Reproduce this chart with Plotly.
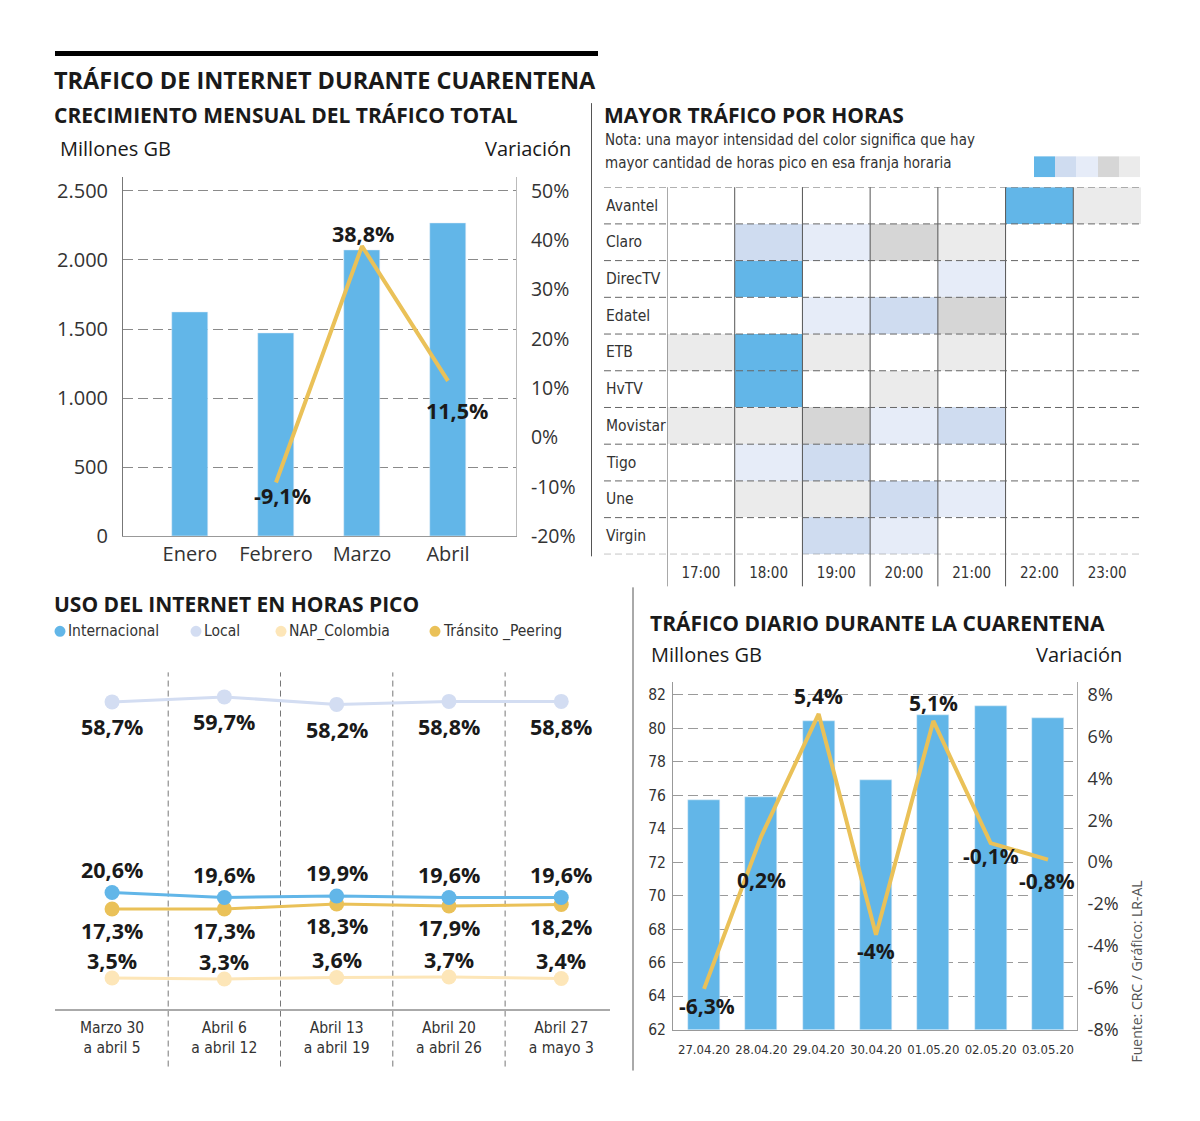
import plotly.graph_objects as go

# page has an 8px body margin; the photographed page is slightly compressed
# vertically, so vertical positions are pre-stretched by K
OFF = 8
W, H = 1200 - 2 * OFF, 1092
K = 1135 / 1121


def px(x):
    return (x - OFF) / W


def py(y):
    return 1 - (y * K - OFF) / H


# ------------------------------------------------------------------ data
MESES = ["Enero", "Febrero", "Marzo", "Abril"]
TRAFICO_MENSUAL = [1620, 1470, 2070, 2265]          # millones de GB
VAR_MENSUAL = [None, -9.1, 38.8, 11.5]              # %

OPERADORES = ["Avantel", "Claro", "DirecTV", "Edatel", "ETB", "HvTV",
              "Movistar", "Tigo", "Une", "Virgin"]
HORAS = ["17:00", "18:00", "19:00", "20:00", "21:00", "22:00", "23:00"]
# 0 = sin color ... 5 = mayor intensidad
INTENSIDAD = [
    [0, 0, 0, 0, 0, 5, 1],
    [0, 4, 3, 2, 1, 0, 0],
    [0, 5, 0, 0, 3, 0, 0],
    [0, 0, 3, 4, 2, 0, 0],
    [1, 5, 1, 0, 1, 0, 0],
    [0, 5, 0, 1, 0, 0, 0],
    [1, 1, 2, 3, 4, 0, 0],
    [0, 3, 4, 0, 0, 0, 0],
    [0, 1, 1, 4, 3, 0, 0],
    [0, 0, 4, 3, 0, 0, 0],
]
LEYENDA_INTENSIDAD = [5, 4, 3, 2, 1]

SEMANAS = ["Marzo 30<br>a abril 5", "Abril 6<br>a abril 12", "Abril 13<br>a abril 19",
           "Abril 20<br>a abril 26", "Abril 27<br>a mayo 3"]
SERIES_NOMBRES = ["Internacional", "Local", "NAP_Colombia", "Tránsito _Peering"]
INTERNACIONAL = [20.6, 19.6, 19.9, 19.6, 19.6]
LOCAL = [58.7, 59.7, 58.2, 58.8, 58.8]
NAP_COLOMBIA = [3.5, 3.3, 3.6, 3.7, 3.4]
TRANSITO_PEERING = [17.3, 17.3, 18.3, 17.9, 18.2]

DIAS = ["27.04.20", "28.04.20", "29.04.20", "30.04.20", "01.05.20", "02.05.20", "03.05.20"]
TRAFICO_DIARIO = [75.7, 75.9, 80.4, 76.9, 80.8, 81.3, 80.6]   # millones de GB
VAR_DIARIA = [-6.3, 0.2, 5.4, -4.0, 5.1, -0.1, -0.8]          # %

# ------------------------------------------------------------------ style
SANS = "Open Sans, Noto Sans, sans-serif"
COND = "DejaVu Sans Condensed, Liberation Sans Narrow, sans-serif"
INK = "#1a1a1a"
TXT = "#333333"
BLUE = "#62b6e8"
GOLD = "#eac158"
LOCAL_C = "#d3ddf2"
NAP_C = "#fde6b8"
HEAT_COLORS = ["#ffffff", "#ebebeb", "#d6d6d6", "#e6ecf8", "#cfdcf0", "#62b6e8"]
SERIES_COLORS = [BLUE, LOCAL_C, NAP_C, GOLD]

# label offsets (pixels, style only)
MES_SHIFT = [None, (7, -13), (1, 13), (9, -30)]
DIA_SHIFT = [(3, -17), (0, -44), (0, 18), (0, -16), (0, 18), (0, -13), (-1, -21)]


def pct(v):
    s = f"{v:.1f}".replace(".", ",")
    if s.endswith(",0"):
        s = s[:-2]
    return s + "%"


fig = go.Figure()

# ---------------- monthly chart
fig.add_trace(go.Bar(x=MESES, y=TRAFICO_MENSUAL, marker_color=BLUE, width=0.42,
                     xaxis="x", yaxis="y", hoverinfo="skip"))
fig.add_trace(go.Scatter(x=MESES, y=VAR_MENSUAL, mode="lines",
                         line=dict(color=GOLD, width=4), xaxis="x", yaxis="y2",
                         hoverinfo="skip"))

# ---------------- heatmap
n = len(HEAT_COLORS)
cs = []
for i, c in enumerate(HEAT_COLORS):
    cs += [[i / n, c], [(i + 1) / n, c]]
fig.add_trace(go.Heatmap(z=INTENSIDAD, x=HORAS, y=OPERADORES, colorscale=cs,
                         zmin=-0.5, zmax=n - 0.5, showscale=False,
                         xaxis="x3", yaxis="y3", hoverinfo="skip", xgap=0, ygap=0))
fig.add_trace(go.Heatmap(z=[LEYENDA_INTENSIDAD], colorscale=cs, zmin=-0.5, zmax=n - 0.5,
                         showscale=False, xaxis="x4", yaxis="y4", hoverinfo="skip"))

# ---------------- weekly lines
for vals, col in [(LOCAL, LOCAL_C), (NAP_COLOMBIA, NAP_C),
                  (TRANSITO_PEERING, GOLD), (INTERNACIONAL, BLUE)]:
    fig.add_trace(go.Scatter(x=SEMANAS, y=vals, mode="lines+markers",
                             line=dict(color=col, width=3),
                             marker=dict(color=col, size=15),
                             xaxis="x5", yaxis="y5", hoverinfo="skip"))

# ---------------- daily chart
fig.add_trace(go.Bar(x=DIAS, y=TRAFICO_DIARIO, marker_color=BLUE, width=0.563,
                     xaxis="x6", yaxis="y6", hoverinfo="skip"))
# empty trace so that the right-hand percentage axis is drawn
fig.add_trace(go.Scatter(x=[DIAS[0]], y=[None], mode="lines", xaxis="x6", yaxis="y7",
                         hoverinfo="skip", showlegend=False))
fig.add_trace(go.Scatter(x=DIAS, y=VAR_DIARIA, mode="lines",
                         line=dict(color=GOLD, width=4), xaxis="x6", yaxis="y8",
                         hoverinfo="skip"))

ann = []
shapes = []


def text(x, y, s, size=20, font=SANS, color=INK, anchor="left", bold=False, **kw):
    ann.append(dict(x=px(x), y=py(y), xref="paper", yref="paper", text=s,
                    showarrow=False, xanchor=anchor, yanchor="middle",
                    font=dict(family=font, size=size, color=color,
                              weight="bold" if bold else "normal"), **kw))


# titles
text(52, 80, "TRÁFICO DE INTERNET DURANTE CUARENTENA", size=23.5, bold=True)
text(52, 115, "CRECIMIENTO MENSUAL DEL TRÁFICO TOTAL", size=21, bold=True)
text(58, 148, "Millones GB", size=20, color=INK)
text(573, 148, "Variación", size=20, color=INK, anchor="right")
text(602, 115, "MAYOR TRÁFICO POR HORAS", size=21, bold=True)
text(603, 140, "Nota: una mayor intensidad del color significa que hay", size=15,
     font=COND, color=TXT)
text(603, 163, "mayor cantidad de horas pico en esa franja horaria", size=15,
     font=COND, color=TXT)
text(52, 604, "USO DEL INTERNET EN HORAS PICO", size=21, bold=True)
text(648, 623, "TRÁFICO DIARIO DURANTE LA CUARENTENA", size=21, bold=True)
text(649, 654, "Millones GB", size=20, color=INK)
text(1124, 654, "Variación", size=20, color=INK, anchor="right")
ann.append(dict(x=px(1137), y=py(971), xref="paper", yref="paper",
                text="Fuente: CRC / Gráfico: LR-AL", showarrow=False, textangle=-90,
                xanchor="center", yanchor="middle",
                font=dict(family=SANS, size=14, color="#555555")))

# legend of weekly chart
leg_x = [60, 196, 281, 435]
for name, col, lx in zip(SERIES_NOMBRES, SERIES_COLORS, leg_x):
    shapes.append(dict(type="circle", xref="paper", yref="paper",
                       x0=px(lx - 5.5), x1=px(lx + 5.5), y0=py(636.5), y1=py(625.5),
                       fillcolor=col, line=dict(width=0)))
    text(lx + 6, 631, name, size=15.5, font=COND, color=TXT)

# monthly labels
for m, v, sh in zip(MESES, VAR_MENSUAL, MES_SHIFT):
    if v is None:
        continue
    ann.append(dict(x=m, y=v, xref="x", yref="y2", text=pct(v), showarrow=False,
                    xshift=sh[0], yshift=sh[1],
                    font=dict(family=SANS, size=21.5, color=INK, weight="bold")))

# daily labels
for d, v, sh in zip(DIAS, VAR_DIARIA, DIA_SHIFT):
    ann.append(dict(x=d, y=v, xref="x6", yref="y8", text=pct(v), showarrow=False,
                    xshift=sh[0], yshift=sh[1],
                    font=dict(family=SANS, size=21, color=INK, weight="bold")))

# weekly labels
for vals, ysh in [(LOCAL, -25), (INTERNACIONAL, 23), (TRANSITO_PEERING, -22),
                  (NAP_COLOMBIA, 18)]:
    for s, v in zip(SEMANAS, vals):
        ann.append(dict(x=s, y=v, xref="x5", yref="y5", text=pct(v), showarrow=False,
                        yshift=ysh,
                        font=dict(family=SANS, size=21.5, color=INK, weight="bold")))

# heatmap row labels
for op in OPERADORES:
    ann.append(dict(x=px(604), y=op, xref="paper", yref="y3", text=op, showarrow=False,
                    xanchor="left", font=dict(family=COND, size=15.5, color=TXT)))

# heatmap grid
for i in range(len(HORAS)):
    shapes.append(dict(type="line", xref="x3", yref="paper", x0=i - 0.5, x1=i - 0.5,
                       y0=py(586), y1=py(187), line=dict(color="#555555", width=1)))
for j in range(len(OPERADORES) + 1):
    shapes.append(dict(type="line", xref="paper", yref="y3", x0=px(604), x1=px(1141),
                       y0=j - 0.5, y1=j - 0.5,
                       line=dict(color="#666666", width=1, dash="7px,4px")))

# weekly separators
for i in range(len(SEMANAS) - 1):
    shapes.append(dict(type="line", xref="x5", yref="paper", x0=i + 0.5, x1=i + 0.5,
                       y0=py(1066), y1=py(672),
                       line=dict(color="#777777", width=1, dash="6px,4px"), layer="below"))

# decorations
shapes.append(dict(type="rect", xref="paper", yref="paper", x0=px(55), x1=px(598),
                   y0=py(56), y1=py(51), fillcolor="#000000", line=dict(width=0)))
shapes.append(dict(type="line", xref="paper", yref="paper", x0=px(591.5), x1=px(591.5),
                   y0=py(556), y1=py(103), line=dict(color="#555555", width=1)))
shapes.append(dict(type="line", xref="paper", yref="paper", x0=px(633), x1=px(633),
                   y0=py(1070), y1=py(587), line=dict(color="#555555", width=1)))

tick_sans = dict(family=SANS, size=20, color=TXT)
mes_pct_ticks = list(range(-20, 51, 10))
dia_pct_ticks = list(range(-8, 9, 2))

fig.update_layout(
    width=W, height=H, margin=dict(l=0, r=0, t=0, b=0),
    paper_bgcolor="white", plot_bgcolor="rgba(0,0,0,0)",
    showlegend=False, separators=",.", bargap=0,
    annotations=ann, shapes=shapes,
    # monthly
    xaxis=dict(domain=[px(123), px(516)], anchor="y", range=[-0.779, 3.791],
               showline=True, linecolor="#999999", linewidth=1, ticks="",
               tickfont=tick_sans, ticklabelstandoff=0, showgrid=False, tickangle=0),
    yaxis=dict(domain=[py(536), py(177)], anchor="x", range=[0, 2599],
               tickvals=list(range(0, 2501, 500)), tickformat=",d",
               showgrid=True, gridcolor="#8a8a8a", griddash="10px,5px", gridwidth=1,
               zeroline=False, showline=True, linecolor="#777777", linewidth=1,
               ticks="", ticklabelstandoff=10, tickfont=tick_sans),
    yaxis2=dict(overlaying="y", side="right", anchor="x", range=[-20, 52.77],
                tickvals=mes_pct_ticks, ticktext=[pct(v) for v in mes_pct_ticks],
                showgrid=False, zeroline=False, showline=True, linecolor="#bbbbbb",
                linewidth=1, ticks="", ticklabelstandoff=10,
                tickfont=dict(family=SANS, size=19.5, color=TXT)),
    # heatmap
    xaxis3=dict(domain=[px(667), px(1141)], anchor="y3", range=[-0.5, len(HORAS) - 0.5],
                showgrid=False, zeroline=False, showline=False, ticks="", tickangle=0,
                tickfont=dict(family=COND, size=15, color=TXT), ticklabelstandoff=8),
    yaxis3=dict(domain=[py(554), py(187)], anchor="x3",
                range=[len(OPERADORES) - 0.5, -0.5], showgrid=False, zeroline=False,
                showticklabels=False, ticks=""),
    xaxis4=dict(domain=[px(1034), px(1140)], anchor="y4", visible=False),
    yaxis4=dict(domain=[py(177), py(156)], anchor="x4", visible=False),
    # weekly
    xaxis5=dict(domain=[px(55), px(610)], anchor="y5", range=[-0.508, 4.434],
                showline=True, linecolor="#aaaaaa", linewidth=2, ticks="", tickangle=0,
                showgrid=False, tickfont=dict(family=COND, size=15.5, color=TXT),
                ticklabelstandoff=4),
    yaxis5=dict(domain=[py(1008), py(672)], anchor="x5", range=[-2.6, 64.6],
                visible=False),
    # daily
    xaxis6=dict(domain=[px(673), px(1077)], anchor="y6", range=[-0.541, 6.506],
                showline=True, linecolor="#999999", linewidth=1, ticks="", tickangle=0,
                showgrid=False, tickfont=dict(family=COND, size=13, color=TXT),
                ticklabelstandoff=8),
    yaxis6=dict(domain=[py(1029), py(681.7)], anchor="x6", range=[62, 82.75],
                tickvals=list(range(62, 83, 2)), showgrid=True, gridcolor="#9a9a9a",
                griddash="10px,5px", zeroline=False, showline=True, linecolor="#999999",
                ticks="", ticklabelstandoff=3,
                tickfont=dict(family=COND, size=15.5, color=TXT)),
    yaxis7=dict(overlaying="y6", side="right", anchor="x6", range=[-8, 8.6],
                tickvals=dia_pct_ticks, ticktext=[pct(v) for v in dia_pct_ticks],
                showgrid=False, zeroline=False, showline=True, linecolor="#aaaaaa",
                ticks="", ticklabelstandoff=6,
                tickfont=dict(family=SANS, size=18, color=TXT)),
    yaxis8=dict(overlaying="y6", anchor="x6", range=[-8.03, 6.753], visible=False),
)

fig.write_html("out.html")
